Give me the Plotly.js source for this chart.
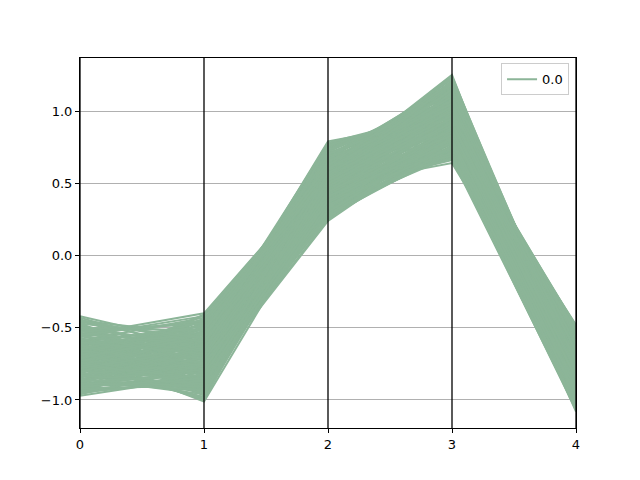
<!DOCTYPE html>
<html>
<head>
<meta charset="utf-8">
<script src="https://cdn.plot.ly/plotly-3.0.1.min.js"></script>
<style>html,body{margin:0;padding:0;background:#fff;}#chart{width:640px;height:480px;}</style>
</head>
<body>
<div id="chart"></div>
<script>
// Parallel-coordinates columns (x positions 0..4), one value per line
const columns = [0, 1, 2, 3, 4];
const col0 = [-0.42,-0.45,-0.48,-0.50,-0.52,-0.55,-0.57,-0.58,-0.60,-0.61,-0.62,-0.63,-0.64,-0.65,-0.66,-0.67,-0.68,-0.69,-0.70,-0.71,-0.72,-0.73,-0.74,-0.75,-0.76,-0.77,-0.78,-0.79,-0.80,-0.81,-0.82,-0.83,-0.84,-0.86,-0.88,-0.90,-0.92,-0.94,-0.96,-0.97,-0.47,-0.53,-0.59,-0.85,-0.93,-0.44,-0.51,-0.87,-0.74,-0.65,
  -0.58,-0.71,-0.83,-0.49,-0.66,-0.77,-0.90,-0.62,-0.54,-0.80,
  -0.69,-0.45,-0.73,-0.87,-0.60,-0.78,-0.52,-0.95,-0.67,-0.74,
  -0.63,-0.81,-0.56,-0.70,-0.89,-0.48,-0.76,-0.64,-0.84,-0.59,
  -0.72,-0.50,-0.86,-0.68,-0.79,-0.61,-0.91,-0.55,-0.75,-0.66,
  -0.82,-0.46,-0.70,-0.88,-0.57,-0.73,-0.64,-0.94,-0.53,-0.78,
  -0.68,-0.85,-0.60,-0.76,-0.43,-0.71,-0.92,-0.62,-0.80,-0.57,
  -0.74,-0.49,-0.83,-0.67,-0.96,-0.59,-0.72,-0.54,-0.87,-0.65,
  -0.77,-0.51,-0.69,-0.90,-0.61,-0.79,-0.56,-0.84,-0.66,-0.73,
  -0.47,-0.81,-0.63,-0.75,-0.93,-0.58,-0.70,-0.86,-0.52,-0.68,
  -0.78,-0.62,-0.89,-0.55,-0.74,-0.65,-0.82,-0.60,-0.71,-0.76,
  -0.92,-0.88,-0.95,-0.85,-0.90,-0.50,-0.47,-0.53,-0.45,-0.55,
  -0.89,-0.86,-0.91,-0.83,-0.87,-0.94];
const col1 = [-0.62,-0.55,-0.80,-0.62,-0.70,-0.40,-0.90,-0.60,-0.75,-0.58,-0.85,-0.65,-0.95,-0.50,-0.72,-0.58,-1.01,-0.78,-0.55,-0.88,-0.63,-0.53,-0.82,-0.68,-0.98,-0.60,-0.74,-0.57,-0.86,-0.66,-0.44,-0.93,-0.61,-0.77,-0.52,-0.80,-0.71,-0.87,-0.56,-0.84,-0.92,-0.97,-0.43,-0.41,-0.64,-0.76,-0.67,-0.94,-0.51,-0.81,
  -0.83,-0.47,-0.66,-0.78,-0.88,-0.55,-0.74,-0.61,-0.88,-0.44,
  -0.70,-0.64,-0.96,-0.52,-0.49,-0.85,-0.73,-0.66,-0.58,-0.79,
  -0.90,-0.60,-0.42,-0.82,-0.57,-0.69,-0.99,-0.53,-0.76,-0.67,
  -0.45,-0.86,-0.63,-0.77,-0.50,-0.94,-0.71,-0.59,-0.89,-0.50,
  -0.81,-0.58,-0.65,-0.46,-0.79,-0.54,-0.87,-0.62,-0.97,-0.69,
  -0.51,-0.84,-0.72,-0.41,-0.67,-0.91,-0.56,-0.75,-0.62,-0.83,
  -0.58,-0.93,-0.71,-0.48,-0.78,-0.63,-1.00,-0.62,-0.68,-0.80,
  -0.73,-0.61,-0.44,-0.86,-0.55,-0.92,-0.66,-0.50,-0.74,-0.60,
  -0.81,-0.53,-0.77,-0.64,-0.70,-0.95,-0.57,-0.79,-0.47,-0.88,
  -0.65,-0.83,-0.59,-0.72,-0.90,-0.46,-0.75,-0.68,-0.54,-0.85,
  -0.90,-0.93,-0.86,-0.96,-0.89,-0.52,-0.57,-0.47,-0.60,-0.45,
  -0.87,-0.91,-0.85,-0.89,-0.83,-0.82];
const col2 = [0.55,0.70,0.40,0.79,0.30,0.58,0.45,0.60,0.35,0.75,0.25,0.50,0.42,0.68,0.33,0.62,0.42,0.48,0.72,0.38,0.57,0.66,0.28,0.52,0.44,0.77,0.36,0.64,0.31,0.54,0.60,0.40,0.59,0.34,0.69,0.26,0.47,0.37,0.61,0.29,0.58,0.71,0.27,0.53,0.56,0.32,0.46,0.63,0.43,0.67,
  0.52,0.38,0.66,0.45,0.29,0.71,0.57,0.34,0.61,0.48,
  0.74,0.41,0.55,0.27,0.63,0.50,0.36,0.69,0.44,0.58,
  0.31,0.65,0.53,0.40,0.77,0.47,0.60,0.35,0.68,0.43,
  0.56,0.24,0.49,0.72,0.39,0.62,0.46,0.54,0.33,0.67,
  0.42,0.59,0.28,0.51,0.75,0.37,0.64,0.45,0.53,0.30,
  0.70,0.48,0.35,0.58,0.43,0.66,0.26,0.55,0.62,0.39,
  0.50,0.73,0.32,0.47,0.60,0.41,0.56,0.78,0.36,0.52,
  0.44,0.64,0.29,0.54,0.69,0.38,0.49,0.58,0.46,0.61,
  0.34,0.57,0.76,0.42,0.51,0.65,0.30,0.48,0.59,0.40,
  0.63,0.45,0.54,0.37,0.70,0.50,0.33,0.56,0.43,0.61,
  0.45,0.50,0.40,0.55,0.35,0.60,0.65,0.55,0.50,0.62,
  0.48,0.57,0.38,0.52,0.44,0.41];
const col3 = [0.95,1.00,0.85,0.95,0.88,1.25,0.66,1.05,0.80,1.05,0.90,1.10,0.70,1.18,0.72,1.08,0.85,0.64,1.12,0.82,0.98,1.20,0.78,0.93,0.68,1.00,0.86,1.15,0.74,0.97,1.22,0.83,1.06,0.79,1.14,0.76,0.91,0.84,1.02,0.71,1.09,0.96,0.73,1.19,1.24,0.69,1.13,1.01,0.77,1.16,
  1.02,0.90,1.10,0.75,0.82,0.98,0.87,1.12,1.20,0.95,
  1.04,0.68,1.16,0.96,0.92,1.07,0.78,1.09,0.99,0.81,
  0.88,1.01,0.72,1.04,0.97,1.18,0.94,0.70,1.13,0.86,
  1.06,0.83,0.80,1.08,0.93,1.14,0.67,0.98,0.76,1.03,
  1.09,0.90,0.79,1.21,0.99,0.85,1.17,0.92,0.84,1.00,
  1.11,0.73,0.96,1.23,0.81,0.94,0.87,1.03,0.89,0.75,
  0.88,1.06,0.91,1.01,1.10,0.71,0.95,1.00,0.82,1.15,
  0.78,1.04,0.74,1.12,0.86,0.99,1.05,0.77,0.90,1.18,
  0.80,1.08,1.02,0.93,0.69,1.07,0.84,1.13,0.97,0.88,
  1.00,1.02,0.90,0.74,1.05,0.83,0.89,1.19,0.96,0.85,
  0.80,0.90,0.88,1.00,0.75,1.10,1.05,1.15,0.95,1.20,
  0.92,1.03,0.81,0.97,0.87,0.78];
const col4 = [-0.52,-0.60,-0.48,-0.50,-1.00,-0.96,-0.85,-0.70,-0.53,-0.65,-1.05,-0.80,-0.88,-0.75,-0.98,-0.68,-1.08,-0.78,-0.90,-0.51,-0.73,-0.76,-1.02,-0.49,-0.87,-0.62,-0.55,-0.70,-1.04,-0.58,-0.95,-0.56,-0.71,-0.99,-0.74,-1.06,-0.82,-0.93,-0.64,-1.01,-0.66,-0.69,-1.00,-0.92,-0.83,-1.07,-0.70,-0.74,-0.94,-0.89,
  -0.72,-0.52,-0.68,-1.03,-0.95,-0.66,-0.80,-0.70,-0.88,-0.77,
  -0.63,-1.05,-0.84,-0.56,-0.86,-0.70,-0.97,-0.67,-0.74,-0.91,
  -0.50,-0.68,-0.99,-0.64,-0.76,-0.83,-0.79,-1.01,-0.70,-0.89,
  -0.67,-0.93,-0.92,-0.64,-0.55,-0.81,-1.06,-0.73,-0.96,-0.65,
  -0.66,-0.49,-0.98,-0.85,-0.71,-0.90,-0.87,-0.82,-0.53,-0.75,
  -0.72,-1.02,-0.53,-0.78,-0.94,-0.80,-0.86,-0.69,-0.84,-1.00,
  -0.88,-0.64,-0.56,-0.72,-0.68,-1.04,-0.76,-0.70,-0.91,-0.83,
  -0.97,-0.66,-1.03,-0.69,-0.87,-0.74,-0.63,-0.95,-0.54,-0.81,
  -0.92,-0.65,-0.73,-0.79,-1.05,-0.62,-0.89,-0.71,-0.77,-0.85,
  -0.70,-0.75,-0.82,-1.00,-0.65,-0.52,-0.84,-0.93,-0.78,-0.90,
  -0.95,-0.85,-1.00,-0.75,-0.90,-0.67,-0.62,-0.72,-0.70,-0.74,
  -0.80,-0.73,-0.93,-0.66,-0.85,-0.97];
const className = '0.0';
const yTicks = [-1.0, -0.5, 0.0, 0.5, 1.0];

const cols = [col0, col1, col2, col3, col4];
const xs = [], ys = [];
for (let i = 0; i < col0.length; i++) {
  for (let c = 0; c < columns.length; c++) { xs.push(columns[c]); ys.push(cols[c][i]); }
  xs.push(null); ys.push(null);
}

const lineColor = '#8cb598';
const trace = {
  x: xs, y: ys, type: 'scatter', mode: 'lines', name: className,
  line: {color: lineColor, width: 2}, connectgaps: false, hoverinfo: 'skip'
};

const shapes = columns.map(c => ({
  type: 'line', xref: 'x', yref: 'paper', x0: c, x1: c, y0: 0, y1: 1,
  line: {color: '#000', width: 1.3}, layer: 'above'
}));

const layout = {
  width: 640, height: 480,
  margin: {l: 80, r: 64, t: 58, b: 52, pad: 0},
  paper_bgcolor: '#fff', plot_bgcolor: '#fff',
  font: {family: 'DejaVu Sans', size: 13, color: '#000'},
  showlegend: true,
  legend: {x: 0.986, y: 0.986, xanchor: 'right', yanchor: 'top',
    bgcolor: 'rgba(255,255,255,0.8)', bordercolor: '#cccccc', borderwidth: 1,
    font: {family: 'DejaVu Sans', size: 13}},
  xaxis: {range: [0, 4], tickvals: columns, ticktext: columns.map(String),
    showgrid: false, zeroline: false, showline: true, mirror: true,
    linecolor: '#000', linewidth: 1, ticks: 'outside', ticklen: 4, tickcolor: '#000'},
  yaxis: {range: [-1.194, 1.367], tickvals: yTicks, tickformat: '.1f',
    showgrid: true, gridcolor: '#b0b0b0', gridwidth: 1, zeroline: false,
    showline: true, mirror: true, linecolor: '#000', linewidth: 1,
    ticks: 'outside', ticklen: 4, tickcolor: '#000'},
  shapes: shapes
};

Plotly.newPlot('chart', [trace], layout, {displayModeBar: false, staticPlot: true});
</script>
</body>
</html>
